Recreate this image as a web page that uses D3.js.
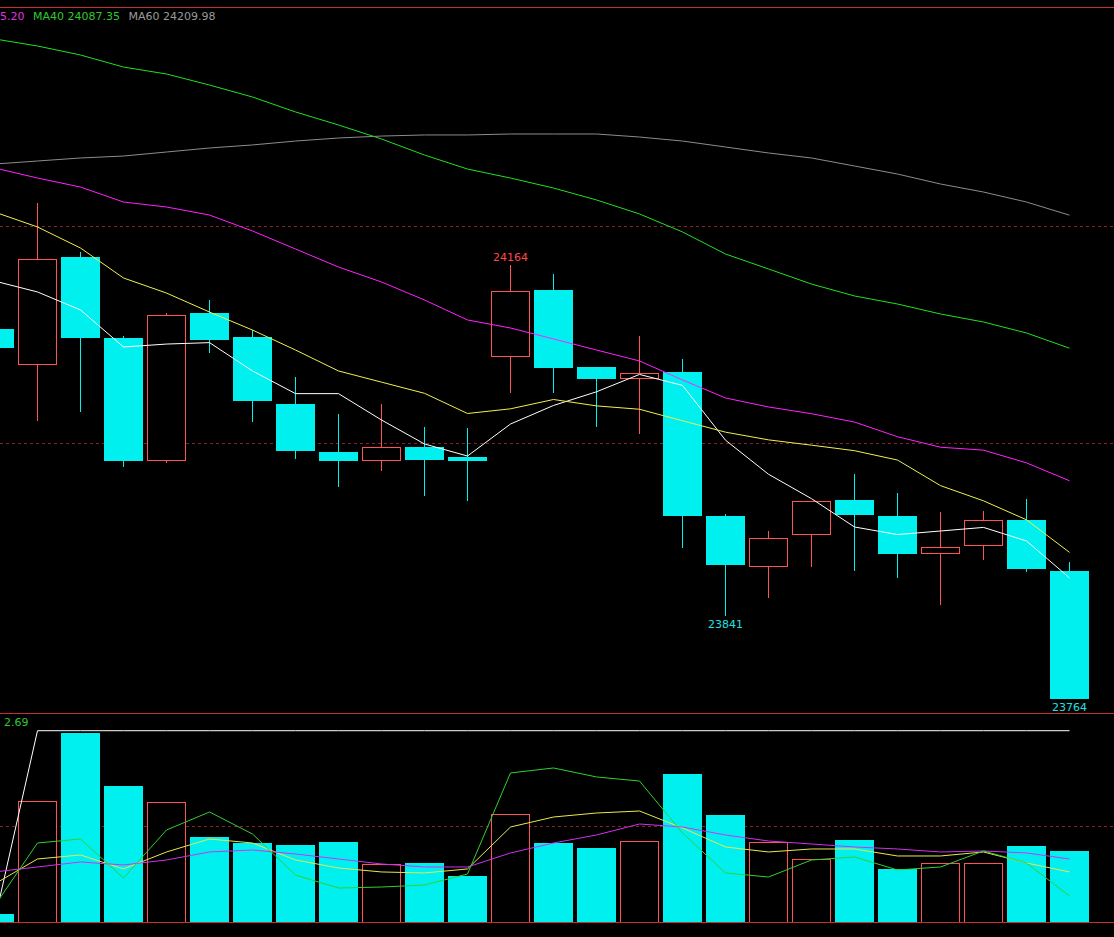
<!DOCTYPE html>
<html><head><meta charset="utf-8">
<script src="https://cdn.jsdelivr.net/npm/d3@7"></script>
<style>html,body{margin:0;padding:0;background:#000;overflow:hidden}svg{display:block}</style>
</head><body>
<svg id="chart" width="1114" height="937"></svg>
<script>
// ---- data ----
const opens  = [24105.1, 24071.9, 24171.4, 24097.0, 23983.4, 24119.8, 24097.7, 24035.9, 23991.7, 23983.4, 23996.3, 23987.1, 24079.3, 24141.0, 24070.0, 24059.0, 24065.4, 23932.7, 23885.7, 23915.2, 23947.5, 23932.7, 23897.7, 23905.1, 23929.0, 23882.0];
const closes = [24087.6, 24169.6, 24096.8, 23983.4, 24118.0, 24094.9, 24038.7, 23992.6, 23983.4, 23996.3, 23984.3, 23983.4, 24140.1, 24069.1, 24059.0, 24064.5, 23932.7, 23887.6, 23912.4, 23946.5, 23933.6, 23897.7, 23904.1, 23929.0, 23883.9, 23764.0];
const highs  = [24108, 24221, 24176, 24099, 24120, 24132, 24104, 24061, 24027, 24036, 24015, 24014, 24164, 24156, 24070, 24099, 24077, 23935, 23919, 23947, 23971, 23954, 23936, 23937, 23948, 23890];
const lows   = [24085, 24020, 24029, 23978, 23982, 24083, 24019, 23985, 23959, 23974, 23951, 23947, 24046, 24046, 24015, 24008, 23903, 23841, 23857, 23886, 23882, 23876, 23851, 23892, 23881, 23764];

const ma5  = [24149.3, 24139.2, 24122.6, 24088.5, 24091.2, 24092.5, 24066.4, 24045.5, 24045.5, 24021.2, 23999.1, 23988.0, 24017.5, 24034.6, 24047.2, 24063.2, 24053.1, 24002.6, 23971.2, 23948.7, 23922.6, 23915.6, 23918.9, 23922.2, 23909.7, 23875.7];
const ma10 = [24212.9, 24199.1, 24179.7, 24152.1, 24138.2, 24120.7, 24104.1, 24085.7, 24066.4, 24056.1, 24045.8, 24027.2, 24031.5, 24040.1, 24034.2, 24031.1, 24020.5, 24010.0, 24002.9, 23998.0, 23992.9, 23984.3, 23960.7, 23946.7, 23929.2, 23899.2];
const ma20 = [24253.5, 24244.2, 24235.9, 24222.1, 24217.5, 24210.1, 24195.4, 24178.8, 24162.2, 24148.4, 24131.8, 24113.4, 24106.0, 24095.9, 24085.7, 24075.6, 24058.1, 24041.5, 24033.2, 24027.0, 24019.3, 24005.8, 23996.1, 23993.4, 23981.7, 23965.20];
const ma40 = [24372.4, 24365.9, 24357.6, 24346.5, 24340.1, 24329.9, 24318.9, 24305.1, 24293.1, 24280.2, 24265.4, 24252.5, 24244.2, 24235.0, 24224.0, 24211.1, 24194.5, 24174.2, 24160.4, 24146.5, 24135.5, 24128.1, 24118.9, 24111.5, 24101.4, 24087.35];
const ma60 = [24257.1, 24259.9, 24262.7, 24264.5, 24268.2, 24271.9, 24274.7, 24278.3, 24281.1, 24282.9, 24283.9, 24283.9, 24284.8, 24284.8, 24284.8, 24282.0, 24278.3, 24272.8, 24267.3, 24262.7, 24255.3, 24247.9, 24238.7, 24231.3, 24222.1, 24209.98];

const volumes    = [0.11, 1.695, 2.648, 1.905, 1.681, 1.191, 1.107, 1.079, 1.121, 0.813, 0.827, 0.644, 1.513, 1.107, 1.037, 1.135, 2.074, 1.499, 1.121, 0.883, 1.149, 0.743, 0.827, 0.827, 1.065, 0.995];
const volWhite   = [0.01, 2.68, 2.68, 2.68, 2.68, 2.68, 2.68, 2.68, 2.68, 2.68, 2.68, 2.68, 2.68, 2.68, 2.68, 2.68, 2.68, 2.68, 2.68, 2.68, 2.68, 2.68, 2.68, 2.68, 2.68, 2.68];
const volYellow  = [0.532, 0.883, 0.939, 0.743, 0.981, 1.163, 1.107, 0.869, 0.757, 0.701, 0.687, 0.743, 1.331, 1.471, 1.527, 1.555, 1.317, 1.051, 0.981, 1.023, 1.023, 0.925, 0.925, 0.981, 0.827, 0.701];
const volMagenta = [0.701, 0.771, 0.841, 0.799, 0.869, 0.981, 1.009, 0.953, 0.883, 0.813, 0.771, 0.771, 0.967, 1.107, 1.219, 1.373, 1.331, 1.219, 1.135, 1.093, 1.051, 1.023, 0.981, 0.995, 0.967, 0.883];
const volGreen   = [0.224, 1.107, 1.163, 0.616, 1.289, 1.541, 1.233, 0.658, 0.476, 0.490, 0.518, 0.672, 2.088, 2.158, 2.032, 1.975, 1.247, 0.687, 0.630, 0.869, 0.911, 0.729, 0.771, 0.995, 0.827, 0.364];

const maNames = ["MA5", "MA10", "MA20", "MA40", "MA60"];
const legendShown = ["MA20", "MA40", "MA60"];   // MA5 / MA10 entries lie entirely off the left edge in the original
const priceGrid = [24000, 24200];
const volMax = 2.69;
const volGrid = [1.345];
const extremeLabels = [{i: 12, kind: "high"}, {i: 17, kind: "low"}, {i: 25, kind: "low"}];

// ---- styles ----
const W = 1114, H = 937;
const UP = "#ff5454", DOWN = "#00f0f0";
const maColors = ["#ffffff", "#f0f050", "#ff22ff", "#22e022", "#8c8c8c"];
const legendColors = ["#ffffff", "#f0f050", "#e030e0", "#30c830", "#9a9a9a"];
const FRAME = "#c83030", GRID = "#8a2222";
const FONT = "DejaVu Sans, Verdana, sans-serif";

const svg = d3.select("#chart");
svg.append("rect").attr("width", W).attr("height", H).attr("fill", "#000");

const idx = d3.range(closes.length);
const x = d3.scaleBand().domain(idx).range([-25, 1089]).paddingInner(4 / 43).paddingOuter(0);
const bw = x.bandwidth();
const cx = i => x(i) + bw / 2;
const y = d3.scaleLinear().domain([24000, 24200]).range([443, 226]);
const yv = d3.scaleLinear().domain([0, volMax]).range([922, 730]);

const mainTop = 7, mainBot = 713, volBot = 922;

// clip paths
const defs = svg.append("defs");
defs.append("clipPath").attr("id", "cm").append("rect").attr("x", 0).attr("y", mainTop).attr("width", W).attr("height", mainBot - mainTop);
defs.append("clipPath").attr("id", "cv").append("rect").attr("x", 0).attr("y", mainBot).attr("width", W).attr("height", volBot - mainBot);

// grid lines
const grid = svg.append("g").attr("shape-rendering", "crispEdges");
grid.selectAll("line.pg").data(priceGrid).join("line").attr("class", "pg")
  .attr("x1", 0).attr("x2", W).attr("y1", d => Math.round(y(d)) + 0.5).attr("y2", d => Math.round(y(d)) + 0.5)
  .attr("stroke", GRID).attr("stroke-dasharray", "3,3");
grid.selectAll("line.vg").data(volGrid).join("line").attr("class", "vg")
  .attr("x1", 0).attr("x2", W).attr("y1", d => Math.round(yv(d)) + 0.5).attr("y2", d => Math.round(yv(d)) + 0.5)
  .attr("stroke", GRID).attr("stroke-dasharray", "3,3");

// candles
const isUp = i => closes[i] > opens[i];
const gMain = svg.append("g").attr("clip-path", "url(#cm)").attr("shape-rendering", "crispEdges");
const candles = gMain.selectAll("g.c").data(idx).join("g").attr("class", "c");
candles.each(function (i) {
  const g = d3.select(this);
  const top = Math.round(y(Math.max(opens[i], closes[i])));
  const bot = Math.round(y(Math.min(opens[i], closes[i])));
  const xc = cx(i);
  const col = isUp(i) ? UP : DOWN;
  g.append("line").attr("x1", xc).attr("x2", xc).attr("y1", Math.round(y(highs[i]))).attr("y2", top).attr("stroke", col);
  g.append("line").attr("x1", xc).attr("x2", xc).attr("y1", bot).attr("y2", Math.round(y(lows[i]))).attr("stroke", col);
  if (isUp(i)) {
    g.append("rect").attr("x", x(i) + 0.5).attr("y", top + 0.5).attr("width", bw - 1).attr("height", Math.max(1, bot - top - 1))
      .attr("fill", "#000").attr("stroke", col);
  } else {
    g.append("rect").attr("x", x(i)).attr("y", top).attr("width", bw).attr("height", Math.max(1, bot - top)).attr("fill", col);
  }
});

// MA lines
const maSeries = [ma5, ma10, ma20, ma40, ma60];
const line = d3.line().x((d, i) => cx(i)).y(d => y(d));
const gLines = svg.append("g").attr("clip-path", "url(#cm)");
gLines.selectAll("path").data(maSeries).join("path")
  .attr("d", line).attr("fill", "none").attr("stroke", (d, k) => maColors[k]).attr("stroke-width", 1);

// extreme labels
svg.append("g").selectAll("text").data(extremeLabels).join("text")
  .attr("x", d => cx(d.i)).attr("text-anchor", "middle")
  .attr("y", d => d.kind === "high" ? y(highs[d.i]) - 4 : y(lows[d.i]) + 12)
  .attr("fill", d => d.kind === "high" ? "#ff4848" : "#20e0e0")
  .attr("font-family", FONT).attr("font-size", 11)
  .text(d => d.kind === "high" ? d3.format("d")(highs[d.i]) : d3.format("d")(lows[d.i]));

// volume bars
const gVol = svg.append("g").attr("clip-path", "url(#cv)").attr("shape-rendering", "crispEdges");
gVol.selectAll("rect").data(idx).join("rect")
  .attr("x", i => isUp(i) ? x(i) + 0.5 : x(i))
  .attr("y", i => Math.round(yv(volumes[i])) + (isUp(i) ? 0.5 : 0))
  .attr("width", i => isUp(i) ? bw - 1 : bw)
  .attr("height", i => Math.round(yv(0)) - Math.round(yv(volumes[i])))
  .attr("fill", i => isUp(i) ? "#000" : DOWN)
  .attr("stroke", i => isUp(i) ? UP : "none");

// volume lines
const vSeries = [volWhite, volYellow, volMagenta, volGreen];
const vColors = ["#ffffff", "#e8e850", "#d030f0", "#30d030"];
const vline = d3.line().x((d, i) => cx(i)).y(d => yv(d));
svg.append("g").attr("clip-path", "url(#cv)").selectAll("path").data(vSeries).join("path")
  .attr("d", vline).attr("fill", "none").attr("stroke", (d, k) => vColors[k]).attr("stroke-width", 1);

// frame lines
const frame = svg.append("g").attr("shape-rendering", "crispEdges");
[mainTop, mainBot, volBot].forEach(yy => {
  frame.append("line").attr("x1", 0).attr("x2", W).attr("y1", yy + 0.5).attr("y2", yy + 0.5).attr("stroke", FRAME);
});

// legend: the MA20 entry runs off the left edge as in the original; MA40 starts at x=33
const legend = svg.append("g").attr("font-family", FONT).attr("font-size", 11);
const items = maNames.map((n, k) => ({name: n, text: n + " " + maSeries[k][maSeries[k].length - 1].toFixed(2), color: legendColors[k]}))
  .filter(d => legendShown.includes(d.name));
const texts = legend.selectAll("text").data(items).join("text").attr("y", 20).attr("fill", d => d.color).text(d => d.text);
const widths = [];
texts.each(function () { widths.push(this.getComputedTextLength()); });
const gap = 8.5;
let cur = 33 - (widths[0] + gap);
texts.attr("x", (d, k) => { const v = cur; cur += widths[k] + gap; return v; });

// volume axis label
svg.append("text").attr("x", 4).attr("y", 726).attr("fill", "#30c830")
  .attr("font-family", FONT).attr("font-size", 11).text(volMax.toFixed(2));
</script>
</body></html>
